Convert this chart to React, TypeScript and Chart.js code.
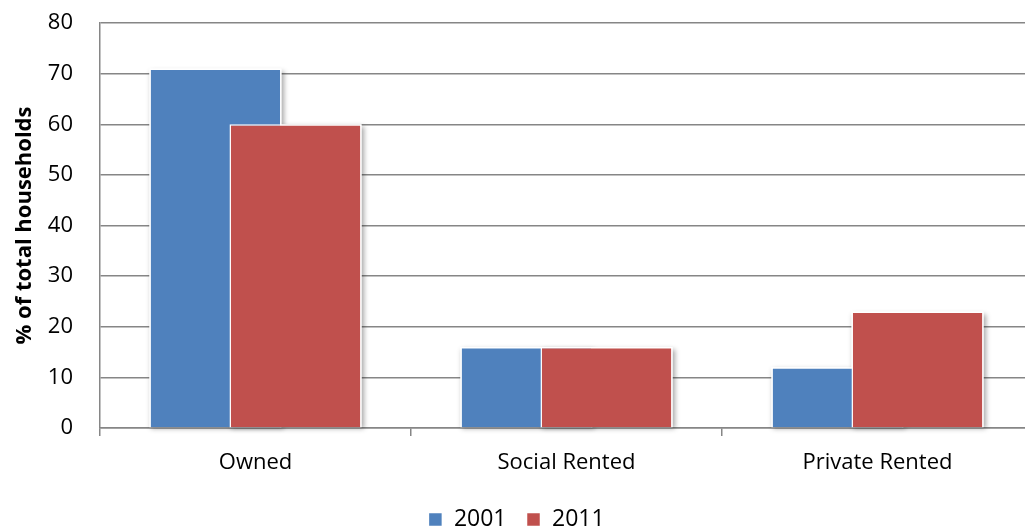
import React, { useEffect, useRef } from "react";
import { Chart, registerables } from "chart.js";

Chart.register(...registerables);

const categories = ["Owned", "Social Rented", "Private Rented"];
const seriesNames = ["2001", "2011"];
const values2001 = [71, 16, 12];
const values2011 = [60, 16, 23];
const seriesColors = ["#4F81BD", "#C0504D"];
const yMin = 0;
const yMax = 80;
const yStep = 10;

const FONT = "'Open Sans', 'DejaVu Sans', sans-serif";
const GRID = "#868686";

// Draw datasets first-to-last (so 2011 sits over 2001) with a soft shadow.
const forwardDrawPlugin = {
  id: "forwardDraw",
  beforeDatasetsDraw(chart: any) {
    const ctx = chart.ctx;
    const metas = chart.getSortedVisibleDatasetMetas();
    ctx.save();
    ctx.shadowColor = "rgba(0,0,0,0.35)";
    ctx.shadowBlur = 5;
    ctx.shadowOffsetX = 2;
    ctx.shadowOffsetY = 2;
    ctx.fillStyle = "#ffffff";
    for (const meta of metas) {
      for (const el of meta.data) {
        const p = el.getProps(["x", "y", "base", "width"], true);
        ctx.fillRect(p.x - p.width / 2, Math.min(p.y, p.base), p.width, Math.abs(p.base - p.y));
      }
    }
    ctx.restore();
    for (const meta of metas) {
      meta.controller.draw();
    }
    return false;
  },
};

export default function App() {
  const canvasRef = useRef<HTMLCanvasElement | null>(null);

  useEffect(() => {
    if (!canvasRef.current) return;
    const seriesValues = [values2001, values2011];
    const chart = new Chart(canvasRef.current, {
      type: "bar",
      data: {
        labels: categories,
        datasets: seriesNames.map((name, i) => ({
          label: name,
          data: seriesValues[i],
          backgroundColor: seriesColors[i],
          borderColor: "#ffffff",
          borderWidth: 1.5,
          borderSkipped: "start",
          categoryPercentage: 0.515,
          barPercentage: 1.65,
        })),
      },
      options: {
        responsive: false,
        animation: false,
        layout: { padding: { top: 23, right: 8, left: 0, bottom: 0 } },
        plugins: {
          tooltip: { enabled: false },
          legend: {
            position: "bottom",
            labels: {
              boxWidth: 14,
              boxHeight: 14,
              padding: 20,
              color: "#000",
              font: { family: FONT, size: 23 },
            },
          },
        },
        scales: {
          x: {
            offset: true,
            grid: {
              offset: true,
              drawOnChartArea: false,
              drawTicks: true,
              tickLength: 8,
              color: GRID,
              lineWidth: 1.5,
            },
            border: { color: GRID, width: 1.5 },
            ticks: {
              padding: 14,
              color: "#000",
              font: { family: FONT, size: 22 },
            },
            afterFit(scale: any) {
              scale.height = 60;
            },
          },
          y: {
            min: yMin,
            max: yMax,
            ticks: {
              stepSize: yStep,
              padding: 27,
              color: "#000",
              font: { family: FONT, size: 22 },
            },
            grid: { color: GRID, lineWidth: 1.5, drawTicks: false },
            border: { color: GRID, width: 1.5 },
            title: {
              display: true,
              text: "% of total households",
              color: "#000",
              font: { family: FONT, size: 22, weight: "bold" },
              padding: { top: 12, bottom: 0 },
            },
            afterFit(scale: any) {
              scale.width = 100;
              scale.paddingTop = 0;
              scale.paddingBottom = 0;
            },
          },
        },
      },
      plugins: [forwardDrawPlugin],
    });
    return () => chart.destroy();
  }, []);

  return (
    <div style={{ position: "fixed", left: 0, top: 0, width: 1041, height: 541, background: "#fff" }}>
      <canvas ref={canvasRef} width={1041} height={541} style={{ display: "block" }} />
    </div>
  );
}
